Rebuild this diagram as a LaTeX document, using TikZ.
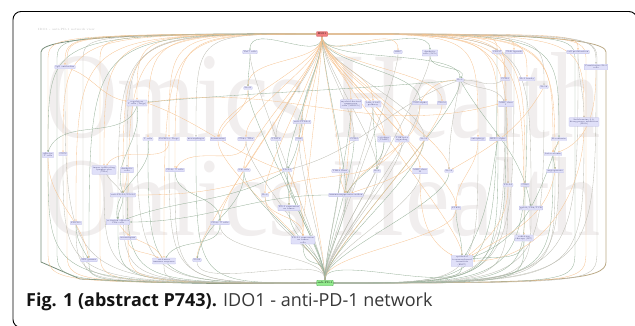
\documentclass[tikz,border=0pt]{standalone}
\usepackage{fontspec}
\usepackage{graphicx}
\newfontfamily\capfont{Open Sans}
\newfontfamily\wmfont{Liberation Serif}
\usetikzlibrary{arrows.meta}
\pgfdeclarelayer{wmlayer}
\pgfdeclarelayer{edgelayer}
\pgfsetlayers{wmlayer,edgelayer,main}
\definecolor{oc}{RGB}{246,196,146}
\definecolor{gc}{RGB}{150,176,152}
\definecolor{kc}{RGB}{188,188,178}
\definecolor{nf}{RGB}{224,224,249}
\definecolor{nd}{RGB}{185,185,228}
\definecolor{nt}{RGB}{70,70,120}
\definecolor{wm}{RGB}{241,238,238}
\definecolor{idof}{RGB}{240,125,125}
\definecolor{idod}{RGB}{205,70,70}
\definecolor{apdf}{RGB}{145,235,140}
\definecolor{apdd}{RGB}{70,170,70}
\tikzset{
  nbox/.style={draw=nd, fill=nf, line width=0.2pt, rounded corners=0.6pt, inner sep=0.9pt,
    font=\fontsize{2.1}{2.4}\selectfont, align=center, text=nt},
  oe/.style={draw=oc, line width=0.32pt},
  ge/.style={draw=gc, line width=0.32pt},
  ke/.style={draw=kc, line width=0.32pt},
  tip/.style={-{Stealth[length=1.8pt,width=1.5pt]}},
  loopthick/.style={draw=gc!80!black, line width=0.8pt},
}
\begin{document}
\begin{tikzpicture}[x=1pt,y=1pt]
\useasboundingbox (0,0) rectangle (635,-326);

% watermark
\begin{pgfonlayer}{wmlayer}
\node[text=wm, inner sep=0, anchor=south] (wm1) at (323,-139) {\resizebox{555pt}{85pt}{\wmfont Omics Health}};
\node[text=wm, inner sep=0, anchor=south] (wm2) at (323,-237) {\resizebox{555pt}{78pt}{\wmfont Omics Health}};
\end{pgfonlayer}

% frame
\draw[line width=0.9pt, rounded corners=8pt] (40,-327.5) -- (13,-327.5) -- (13,-11.5) -- (637,-11.5) -- (637,-60);

% header text
\node[font=\fontsize{3}{3}\selectfont, text=black!25, anchor=west, inner sep=0] (hdr) at (38,-29) {IDO1 - anti-PD-1 network view};

% key nodes
\node[fill=idof, draw=idod, line width=0.3pt, inner sep=0.6pt, rounded corners=0.5pt,
  font=\fontsize{2.6}{3}\selectfont, minimum width=11pt, minimum height=4.6pt] (ido) at (322,-34) {IDO1};
\node[fill=apdf, draw=apdd, line width=0.3pt, inner sep=0.6pt, rounded corners=0.5pt,
  font=\fontsize{2.6}{3}\selectfont, minimum width=16pt, minimum height=5.4pt] (apd) at (325,-283) {anti-PD-1};

% nodes
\node[nbox] (igg) at (65,-67) {IgG antibodies};
\node[nbox] (th17) at (250,-52) {Th17 cells};
\node[nbox] (il21) at (248,-88) {IL-21};
\node[nbox] (treg) at (137,-103) {regulatory\\T cells (Tregs)};
\node[nbox] (actla) at (302,-122) {anti-CTLA-4};
\node[nbox] (mhc) at (398,-52) {MHC};
\node[nbox] (dc) at (430,-53) {dendritic\\cells (DCs)};
\node[nbox] (cd137) at (497,-52) {CD137};
\node[nbox] (tlr) at (514,-52) {TLR ligands};
\node[nbox] (prol) at (578,-52) {cell proliferation};
\node[nbox] (const) at (596,-67) {Constitutive IL-2\\cells};
\node[nbox] (il2) at (460,-80) {IL-2};
\node[nbox] (ccr4) at (505,-79) {CCR4};
\node[nbox] (il10f) at (527,-79) {IL-1 family};
\node[nbox] (il18) at (544,-87) {IL-18};
\node[nbox] (mdsc) at (351,-104) {myeloid-derived\\suppressor\\cells (MDSCs)};
\node[nbox] (jak) at (373,-104) {JAK/STAT\\pathway};
\node[nbox] (tgfa) at (420,-103) {TGF-alpha};
\node[nbox] (tdo) at (442,-103) {TDO2};
\node[nbox] (mhc1) at (506,-104) {MHC class\\I};
\node[nbox] (idoi) at (584,-122) {Indoleamine 2,3-\\dioxygenase inhibition\\(IDOi)};
\node[nbox] (tcell) at (148,-139) {T cells};
\node[nbox] (foxp3) at (169,-139) {FOXP3+ Tregs};
\node[nbox] (macro) at (196,-139) {macrophages};
\node[nbox] (kyn) at (218,-139) {kynurenine};
\node[nbox] (cd8til) at (246,-139) {CD8+ TILs};
\node[nbox] (stat3) at (276,-139) {STAT3};
\node[nbox] (tnf) at (299,-139) {TNF};
\node[nbox] (ccr2) at (354,-139) {CCR2};
\node[nbox] (camp) at (384,-139) {cytokine\\(CAMP)};
\node[nbox] (tgfb) at (402,-139) {TGF-beta\\signaling};
\node[nbox] (il10) at (424,-139) {IL-10};
\node[nbox] (auto) at (478,-139) {autophagy};
\node[nbox] (hif) at (498,-139) {HIF-1 alpha};
\node[nbox] (ecad) at (559,-139) {E-cadherin};
\node[nbox] (eff) at (48,-155) {effector\\T cells};
\node[nbox] (cd73) at (63,-154) {CD73};
\node[nbox] (bcat) at (553,-154) {beta-catenin};
\node[nbox] (til) at (104,-170) {tumor infiltrating\\lymphocytes\\(TILs)};
\node[nbox] (dc2) at (127,-170) {dendritic\\cells};
\node[nbox] (cd4) at (175,-170) {CD4+ T cells};
\node[nbox] (nk) at (244,-170) {NK cells};
\node[nbox] (pdl1) at (287,-170) {PD-L1};
\node[nbox] (stat1) at (340,-171) {TLR4 Gene};
\node[nbox] (il4) at (377,-171) {IL-4};
\node[nbox] (mhc2) at (420,-171) {MHC class\\II};
\node[nbox] (il12) at (449,-171) {IL-12};
\node[nbox] (angio) at (555,-171) {angiogenesis};
\node[nbox] (apdl) at (123,-195) {anti-PD-L1/PD-L2};
\node[nbox] (il6) at (265,-195) {IL-6};
\node[nbox] (immsup) at (346,-195) {immunosuppressive milieu};
\node[nbox] (pdl2) at (508,-185) {PD-L2};
\node[nbox] (cd80) at (525,-185) {CD80};
\node[nbox] (pdexp) at (289,-208) {PD-1 expression\\on tumor};
\node[nbox] (pten) at (456,-208) {PTEN};
\node[nbox] (gp100) at (531,-208) {gp100/CD8/TCR};
\node[nbox] (pdcd1) at (76,-223) {PDCD1};
\node[nbox] (act) at (118,-222) {activated effector\\CD8 cells};
\node[nbox] (cd8) at (220,-223) {CD8+ T cells};
\node[nbox] (pdl1exp) at (303,-240) {PD-L1 expression\\on tumor\\cells};
\node[nbox] (neo) at (128,-238) {neoantigens};
\node[nbox] (rt) at (524,-238) {radiation\\therapy (RT)};
\node[nbox] (ifn) at (89,-260) {IFN-gamma};
\node[nbox] (antit) at (164,-261) {antitumor\\immune response};
\node[nbox] (ido2) at (197,-260) {IDO2};
\node[nbox] (emt) at (462,-261) {epithelial\\to-mesenchymal\\transition\\(EMT)};

% caption
\node[anchor=base west, inner sep=0, font=\capfont\fontsize{18}{20}\selectfont, text=black!78] (cap) at (26,-306)
  {\textbf{\color{black!92}Fig. 1 (abstract P743).} IDO1 - anti-PD-1 network};

\begin{pgfonlayer}{edgelayer}
% outer loops
\draw[loopthick] (ido.west) .. controls (150,-33) and (41,-37) .. (41,-52) -- (41,-262) -- (80,-279) .. controls (200,-284) .. (apd.west);
\draw[loopthick, draw=oc!60!gc!90!black] (ido.east) .. controls (500,-33) and (606,-37) .. (606,-52) -- (606,-262) .. controls (606,-280) and (560,-283) .. (apd.east);
\foreach \x/\s in {48/oe,57/ge,67/oe,83/ke,100/oe}
  \draw[\s] (ido.west) .. controls (\x,-35) .. (\x,-62) -- (\x,-250) .. controls (\x,-283) .. (apd.west);
\foreach \x/\s in {575/ge,586/oe,597/ke}
  \draw[\s] (ido.east) .. controls (\x,-35) .. (\x,-62) -- (\x,-250) .. controls (\x,-283) .. (apd.east);

% IDO1 to outer nodes
\foreach \n/\s in {igg/oe, treg/oe, tcell/oe, foxp3/oe, macro/ke, eff/ge, cd73/oe, til/oe, dc2/ke, cd4/oe,
  apdl/oe, pdcd1/oe, act/ke, neo/oe, ifn/ge, antit/oe}
  \draw[\s,tip] (ido.west) .. controls (\n.north |- ido.west) .. (\n.north);
\foreach \n/\s in {cd137/oe, tlr/oe, prol/oe, const/ke, ccr4/oe, il10f/oe, il18/ke, mhc1/oe, idoi/oe, auto/oe,
  hif/oe, ecad/ge, bcat/oe, angio/oe, pdl2/oe, cd80/oe, gp100/ke, rt/oe}
  \draw[\s,tip] (ido.east) .. controls (\n.north |- ido.east) .. (\n.north);
% IDO1 to central nodes
\foreach \n/\s in {th17/ge, il21/oe, actla/ge, kyn/oe, cd8til/oe, stat3/ke, tnf/oe, nk/oe, pdl1/ge, il6/oe,
  pdexp/oe, cd8/oe, pdl1exp/oe, ido2/oe, mhc/oe, dc/ge, il2/ge, mdsc/oe, jak/oe, tgfa/ge, tdo/oe, ccr2/ke,
  camp/oe, tgfb/oe, il10/ke, stat1/oe, il4/ke, mhc2/oe, il12/oe, immsup/ge, pten/oe, emt/oe}
  \draw[\s,tip] (ido.south) .. controls +(0,-28) and +(0,30) .. (\n.north);

% outer nodes to anti-PD-1
\foreach \n/\s in {igg/ke, treg/ke, tcell/ge, foxp3/ke, macro/ge, eff/ge, cd73/ke, til/ke, dc2/ge, cd4/ke,
  apdl/ke, pdcd1/ke, act/ge, neo/oe, ifn/ge, antit/ke}
  \draw[\s,tip] (\n.south) .. controls (\n.south |- apd.west) .. (apd.west);
\foreach \n/\s in {cd137/ge, tlr/ke, prol/ke, const/ke, ccr4/ke, il10f/ge, il18/ke, mhc1/ge, idoi/ke, auto/ke,
  hif/ge, ecad/ke, bcat/ge, angio/ke, pdl2/ke, cd80/ge, gp100/ke, rt/ge}
  \draw[\s,tip] (\n.south) .. controls (\n.south |- apd.east) .. (apd.east);
% central nodes to anti-PD-1
\foreach \n/\s in {th17/ke, il21/ge, actla/oe, kyn/oe, cd8til/ke, stat3/ge, tnf/ke, nk/ge, pdl1/ge, il6/ke,
  pdexp/ge, cd8/ke, pdl1exp/ge, ido2/ke, mhc/ke, dc/ke, il2/ge, mdsc/ge, jak/ke, tgfa/ke, tdo/oe, ccr2/ge,
  camp/ke, tgfb/ke, il10/ge, stat1/ke, il4/ke, mhc2/ke, il12/ge, immsup/ge, pten/oe, emt/ge}
  \draw[\s,tip] (\n.south) .. controls +(0,-30) and +(0,28) .. (apd.north);

% inter-node edges
\draw[ke,tip] (il2) to[out=200,in=15] (pdl1);
\draw[ge,tip] (il2) to[out=185,in=5] (treg);
\draw[oe,tip] (treg.east) to[out=10,in=195] (mhc1.west);
\draw[ge,tip] (treg.south) to[out=-80,in=110] (apdl.north);
\draw[ge,tip] (treg.south) to[out=-110,in=70] (eff.north);
\draw[oe,tip] (treg.east) to[out=-20,in=160] (pdl1.west);
\draw[ke,tip] (til) to[out=-60,in=120] (apdl);
\draw[oe,tip] (dc2) to[out=-90,in=80] (apdl);
\draw[ge,tip] (apdl) to[out=-90,in=90] (act);
\draw[oe,tip] (apdl.east) to[out=0,in=200] (pdl1.west);
\draw[ge,tip] (pdl1) to[out=-90,in=90] (pdexp);
\draw[oe,tip] (pdl1) to[out=-60,in=90] (pdl1exp);
\draw[ge,tip] (pdl1) to[out=-150,in=20] (act);
\draw[ke,tip] (il2) to[out=-100,in=90] (il12);
\draw[ke,tip] (il2) to[out=-30,in=120] (mhc1);
\draw[ge,tip] (il2) to[out=-60,in=100] (gp100);
\draw[oe,tip] (il2) to[out=180,in=60] (tgfa);
\draw[ge,tip] (dc) to[out=-90,in=60] (il2);
\draw[oe,tip] (tgfa) to[out=-90,in=60] (immsup);
\draw[oe,tip] (il10) to[out=-100,in=20] (immsup);
\draw[ge,tip] (camp) to[out=-90,in=60] (immsup);
\draw[oe,tip] (mdsc) to[out=-90,in=90] (immsup);
\draw[ge,tip] (immsup.west) to[out=180,in=0] (act.east);
\draw[oe,tip] (mhc2) to[out=-90,in=150] (emt);
\draw[ge,tip] (ecad) to[out=-110,in=20] (emt);
\draw[oe,tip] (angio) to[out=-100,in=30] (emt);
\draw[ge,tip] (hif) to[out=-100,in=60] (emt);
\draw[oe,tip] (auto) to[out=-90,in=90] (pten);
\draw[oe,tip] (ecad) to[out=-90,in=90] (bcat);
\draw[ge,tip] (bcat) to[out=-90,in=90] (angio);
\draw[ge,tip] (cd4) to[out=-90,in=90] (cd8);
\draw[oe,tip] (cd8til) to[out=-90,in=60] (cd4);
\draw[ge,tip] (cd8) to[out=-90,in=60] (antit);
\draw[oe,tip] (act) to[out=-60,in=120] (antit);
\draw[oe,tip] (neo) to[out=-90,in=150] (antit);
\draw[ge,tip] (nk) to[out=-90,in=80] (ido2);
\draw[oe,tip] (eff) to[out=-90,in=100] (ifn);
\draw[ge,tip] (pdcd1) to[out=-90,in=120] (ifn);
\draw[oe,tip] (idoi.south) to[out=-90,in=0] (emt.east);
\draw[ge,tip] (rt) to[out=-90,in=10] (emt);
\draw[oe,tip] (pdl2) to[out=-90,in=40] (emt);
\draw[ge,tip] (jak) to[out=-90,in=90] (il4);
\draw[oe,tip] (stat1) to[out=-90,in=110] (immsup);
\draw[oe,tip] (igg) to[out=-20,in=170] (treg);
\draw[ke,tip] (prol) to[out=-90,in=90] (idoi);
\draw[oe,tip] (const) to[out=-90,in=20] (bcat);
\draw[ge,tip] (th17) to[out=-90,in=90] (il21);
\draw[oe,tip] (il21) to[out=-90,in=70] (kyn);
\draw[ge,tip] (actla) to[out=-100,in=60] (pdl1);
\draw[oe,tip] (tgfb) to[out=-120,in=30] (il6);
\draw[ke,tip] (mhc1) to[out=-90,in=90] (pdl2);
\draw[oe,tip] (il18) to[out=-120,in=30] (il12);
\draw[ge,tip] (tcell) to[out=-80,in=100] (act);
\draw[oe,tip] (foxp3) to[out=-90,in=60] (til);
\draw[ge,tip] (pten) to[out=-90,in=90] (emt);
\draw[oe,tip] (il6) to[out=-90,in=90] (pdl1exp);
\draw[ke,tip] (ccr4) to[out=-150,in=0] (il2);
\end{pgfonlayer}
\end{tikzpicture}
\end{document}
